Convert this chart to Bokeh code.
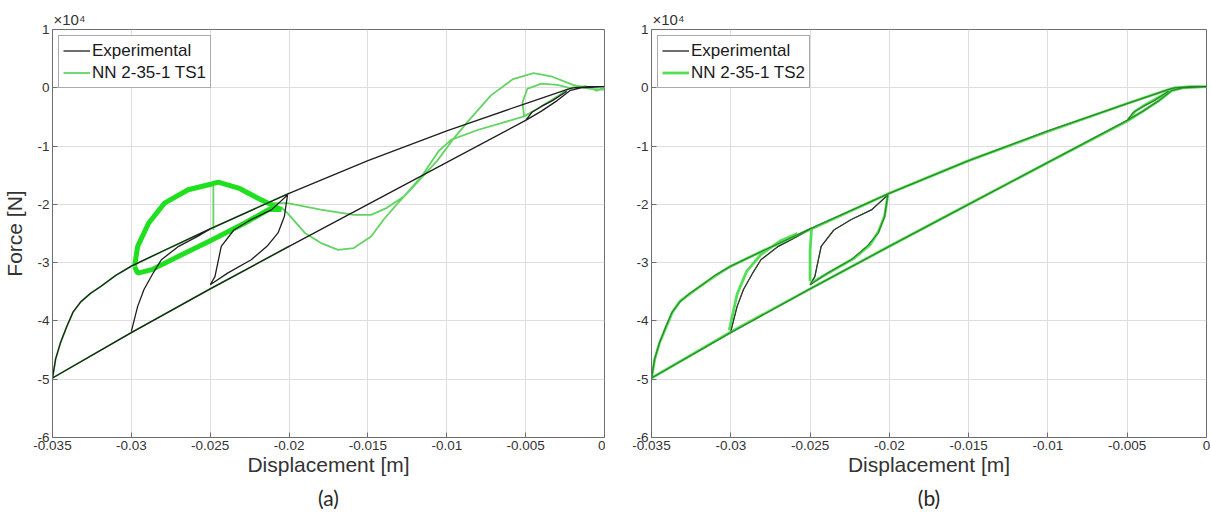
import numpy as np
from bokeh.plotting import figure
from bokeh.layouts import row
from bokeh.models import Range1d, FixedTicker, Legend, LegendItem, Title
from bokeh.embed import file_html
from bokeh.resources import INLINE

# ---------------- axis ticks ----------------
x_ticks = [-0.035, -0.03, -0.025, -0.02, -0.015, -0.01, -0.005, 0]
x_tick_labels = ["-0.035", "-0.03", "-0.025", "-0.02", "-0.015", "-0.01", "-0.005", "0"]
y_ticks = [1, 0, -1, -2, -3, -4, -5, -6]            # force, units of 1e4 N
y_tick_labels = ["1", "0", "-1", "-2", "-3", "-4", "-5", "-6"]
y_exponent = "×10⁴"

# ---------------- experimental (force in 1e4 N) ----------------
exp_outer_disp = [0.0, -0.0010, -0.0020, -0.0024, -0.0050, -0.0100, -0.0150, -0.0200, -0.0250,
                  -0.0280, -0.0300, -0.0310, -0.0319, -0.0326, -0.0332, -0.0337, -0.0341, -0.0345,
                  -0.0348, -0.0350, -0.0300, -0.0250, -0.0200, -0.0150, -0.0100, -0.0050, -0.0040,
                  -0.0030, -0.0022, -0.0015, 0.0]
exp_outer_force = [0.02, 0.02, 0.0, -0.03, -0.27, -0.74, -1.25, -1.81, -2.42,
                   -2.80, -3.06, -3.22, -3.40, -3.53, -3.67, -3.85, -4.10, -4.38,
                   -4.65, -4.98, -4.20, -3.45, -2.72, -2.00, -1.28, -0.56, -0.40,
                   -0.22, -0.05, 0.0, 0.02]
exp_small_disp = [-0.0050, -0.0046, -0.0040, -0.0033, -0.0024]
exp_small_force = [-0.56, -0.42, -0.32, -0.22, -0.06]
exp_lens_disp = [-0.0250, -0.0247, -0.0243, -0.0235, -0.0224, -0.0211, -0.0201, -0.0203, -0.0207,
                 -0.0214, -0.0224, -0.0239, -0.0250]
exp_lens_force = [-3.38, -3.24, -2.72, -2.44, -2.26, -2.09, -1.84, -2.21, -2.49,
                  -2.72, -2.95, -3.18, -3.38]
exp_branch_disp = [-0.0300, -0.0296, -0.0292, -0.0286, -0.0281, -0.0270, -0.0258, -0.0250]
exp_branch_force = [-4.18, -3.75, -3.46, -3.17, -2.95, -2.72, -2.55, -2.42]

# ---------------- NN 2-35-1 TS1 (panel a) ----------------
ts1_outer_disp = [-0.0200, -0.0250, -0.0300, -0.0350, -0.0348, -0.0345, -0.0341, -0.0337, -0.0332,
                  -0.0326, -0.0319, -0.0310, -0.0300, -0.0250, -0.0200]
ts1_outer_force = [-2.72, -3.45, -4.20, -4.98, -4.65, -4.38, -4.10, -3.85, -3.67,
                   -3.53, -3.40, -3.22, -3.06, -2.42, -1.81]
ts1_loop_disp = [-0.0298, -0.0296, -0.0289, -0.0279, -0.0264, -0.0249, -0.0245, -0.0232, -0.0220,
                 -0.0211, -0.0205, -0.0213, -0.0228, -0.0249, -0.0270, -0.0287, -0.0296, -0.0298]
ts1_loop_force = [-3.07, -2.72, -2.32, -1.98, -1.75, -1.65, -1.62, -1.72, -1.89,
                  -2.01, -2.09, -2.09, -2.32, -2.61, -2.89, -3.12, -3.18, -3.07]
ts1_drop_disp = [-0.0248, -0.0248]
ts1_drop_force = [-1.63, -2.44]
ts1_wave1_disp = [-0.0211, -0.0201, -0.0180, -0.0159, -0.0148, -0.0138, -0.0127, -0.0116, -0.0105,
                  -0.0097, -0.0080, -0.0066, -0.0051]
ts1_wave1_force = [-1.98, -1.98, -2.09, -2.18, -2.18, -2.06, -1.86, -1.52, -1.08,
                   -0.89, -0.72, -0.61, -0.49]
ts1_wave2_disp = [-0.0205, -0.0201, -0.0190, -0.0180, -0.0169, -0.0159, -0.0148, -0.0140, -0.0131,
                  -0.0121, -0.0106, -0.0095, -0.0087, -0.0072, -0.0058, -0.0045, -0.0033, -0.0020,
                  -0.0009, 0.0]
ts1_wave2_force = [-2.05, -2.15, -2.49, -2.66, -2.78, -2.75, -2.55, -2.26, -1.98,
                   -1.69, -1.25, -0.85, -0.59, -0.13, 0.15, 0.25, 0.19, 0.05,
                   -0.02, -0.03]
ts1_small_disp = [-0.0051, -0.0052, -0.0049, -0.0040, -0.0030, -0.0022, -0.0030, -0.0042, -0.0051]
ts1_small_force = [-0.49, -0.25, -0.02, 0.07, 0.05, 0.00, -0.15, -0.35, -0.49]
ts1_zero_disp = [-0.0022, -0.0012, -0.0005, 0.0]
ts1_zero_force = [0.0, 0.03, -0.05, 0.0]

# ---------------- NN 2-35-1 TS2 (panel b) ----------------
ts2_outer_disp = [0.0, -0.0010, -0.0020, -0.0024, -0.0050, -0.0100, -0.0150, -0.0200, -0.0250,
                  -0.0280, -0.0300, -0.0310, -0.0319, -0.0326, -0.0332, -0.0337, -0.0341, -0.0345,
                  -0.0348, -0.0350, -0.0300, -0.0250, -0.0200, -0.0150, -0.0100, -0.0050, -0.0040,
                  -0.0030, -0.0022, -0.0015, 0.0]
ts2_outer_force = [0.02, 0.02, 0.0, -0.03, -0.27, -0.75, -1.25, -1.81, -2.43,
                   -2.80, -3.06, -3.23, -3.40, -3.54, -3.66, -3.86, -4.12, -4.38,
                   -4.66, -4.98, -4.19, -3.45, -2.72, -2.00, -1.28, -0.57, -0.40,
                   -0.22, -0.05, 0.0, 0.02]
ts2_small_disp = [-0.0050, -0.0045, -0.0038, -0.0030, -0.0022]
ts2_small_force = [-0.58, -0.40, -0.28, -0.16, -0.04]
ts2_drop_disp = [-0.0249, -0.0250, -0.0250]
ts2_drop_force = [-2.40, -2.80, -3.32]
ts2_lens_disp = [-0.0201, -0.0203, -0.0207, -0.0212, -0.0222, -0.0236, -0.0250]
ts2_lens_force = [-1.85, -2.20, -2.47, -2.69, -2.92, -3.14, -3.36]
ts2_branch_disp = [-0.0301, -0.0296, -0.0290, -0.0281, -0.0269, -0.0258]
ts2_branch_force = [-4.16, -3.54, -3.15, -2.86, -2.63, -2.50]


def join(*segs):
    xs, ys = [], []
    for sx, sy in segs:
        xs += list(sx) + [np.nan]
        ys += list(sy) + [np.nan]
    return np.array(xs[:-1]), np.array(ys[:-1])


TICK_FONT = "Liberation Sans"
BLACK = "#1e1e1e"


def make_panel(width, left, right, show_ylabel, tag):
    p = figure(width=width, height=523, output_backend="svg", toolbar_location=None,
               x_range=Range1d(-0.035, 0), y_range=Range1d(-6, 1),
               min_border_left=left, min_border_right=right,
               min_border_top=29, min_border_bottom=86)
    p.background_fill_color = "white"
    p.border_fill_color = "white"
    p.outline_line_color = "#6e6e6e"
    p.outline_line_width = 1
    p.xaxis.ticker = FixedTicker(ticks=x_ticks)
    p.yaxis.ticker = FixedTicker(ticks=y_ticks)
    p.xaxis.major_label_overrides = dict(zip(x_ticks, x_tick_labels))
    p.yaxis.major_label_overrides = dict(zip(y_ticks, y_tick_labels))
    for ax in (p.xaxis[0], p.yaxis[0]):
        ax.major_tick_in = 5
        ax.major_tick_out = 0
        ax.minor_tick_line_color = None
        ax.axis_line_color = "#6e6e6e"
        ax.major_tick_line_color = "#6e6e6e"
        ax.major_label_text_font = TICK_FONT
        ax.major_label_text_font_size = "13.5px"
        ax.major_label_text_color = "#333333"
        ax.major_label_standoff = 3
        ax.axis_label_text_font = TICK_FONT
        ax.axis_label_text_font_size = "21px"
        ax.axis_label_text_font_style = "normal"
        ax.axis_label_text_color = "#333333"
        ax.axis_label_standoff = 0
    p.xaxis.axis_label = "Displacement [m]"
    if show_ylabel:
        p.yaxis.axis_label = "Force [N]"
        p.yaxis.axis_label_standoff = 8
    p.grid.grid_line_color = "#dedede"
    p.grid.grid_line_width = 1

    # exponent marker above the y axis (MATLAB style)
    p.title.text = y_exponent
    p.title.align = "left"
    p.title.offset = 1
    p.title.standoff = 4
    p.title.text_font = TICK_FONT
    p.title.text_font_size = "15px"
    p.title.text_font_style = "normal"
    p.title.text_color = "#333333"

    # panel tag below the axis label
    p.add_layout(Title(text=tag, align="center", text_font="Lato", text_font_size="21px",
                       text_font_style="normal", text_color="#262626", standoff=8), "below")
    return p


# ---------------- panel (a) ----------------
p1 = make_panel(605, 51, 1, True, "(a)")
gx, gy = join((ts1_outer_disp, ts1_outer_force), (ts1_drop_disp, ts1_drop_force),
              (ts1_wave1_disp, ts1_wave1_force), (ts1_wave2_disp, ts1_wave2_force),
              (ts1_small_disp, ts1_small_force), (ts1_zero_disp, ts1_zero_force))
g1 = p1.line(gx, gy, line_color="#62d462", line_width=1.8)
p1.line(ts1_loop_disp, ts1_loop_force, line_color="#1fe01f", line_width=5)
ex, ey = join((exp_outer_disp, exp_outer_force), (exp_small_disp, exp_small_force),
              (exp_lens_disp, exp_lens_force), (exp_branch_disp, exp_branch_force))
b1 = p1.line(ex, ey, line_color=BLACK, line_width=1.3)

# ---------------- panel (b) ----------------
p2 = make_panel(606, 46, 5, False, "(b)")
b2 = p2.line(ex, ey, line_color=BLACK, line_width=1.3)
hx, hy = join((ts2_outer_disp, ts2_outer_force), (ts2_small_disp, ts2_small_force),
              (ts2_drop_disp, ts2_drop_force), (ts2_lens_disp, ts2_lens_force),
              (ts2_branch_disp, ts2_branch_force))
g2 = p2.line(hx, hy, line_color="#3ad83a", line_width=2.8, line_alpha=0.85)
p2.line(ex, ey, line_color="#2a5a2a", line_width=0.8, line_alpha=0.8)


def add_legend(p, items):
    leg = Legend(items=items, location="top_left")
    leg.margin = 6
    leg.padding = 4
    leg.spacing = 1
    leg.label_text_font = TICK_FONT
    leg.label_text_font_size = "17px"
    leg.label_text_color = "#1a1a1a"
    leg.label_height = 21
    leg.glyph_height = 21
    leg.glyph_width = 27
    leg.label_standoff = 2
    leg.border_line_color = "#555555"
    leg.border_line_width = 1
    leg.background_fill_color = "white"
    leg.background_fill_alpha = 1
    p.add_layout(leg)


add_legend(p1, [LegendItem(label="Experimental", renderers=[b1]),
                LegendItem(label="NN 2-35-1 TS1", renderers=[g1])])
add_legend(p2, [LegendItem(label="Experimental", renderers=[b2]),
                LegendItem(label="NN 2-35-1 TS2", renderers=[g2])])

layout = row(p1, p2)
open("out.html", "w").write(file_html(layout, INLINE))
